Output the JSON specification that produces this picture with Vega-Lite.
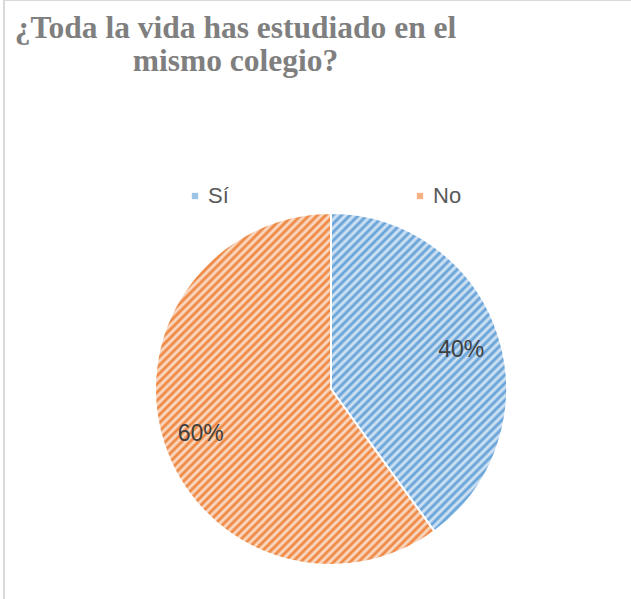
{
  "$schema": "https://vega.github.io/schema/vega-lite/v6.json",
  "autosize": {"type": "none"},
  "padding": {"left": 4, "top": 0, "right": 0, "bottom": 0},
  "width": 654,
  "height": 778,
  "background": "white",
  "view": {"stroke": "#d9d9d9", "strokeWidth": 2},
  "title": {
    "text": ["¿Toda la vida has estudiado en el", "mismo colegio?"],
    "orient": "top",
    "anchor": "start",
    "frame": "group",
    "align": "center",
    "dx": 231.5,
    "dy": 102,
    "offset": 0,
    "baseline": "alphabetic",
    "font": "Liberation Serif",
    "fontSize": 31.5,
    "fontWeight": "bold",
    "color": "#7f7f7f",
    "lineHeight": 33
  },
  "data": {
    "values": [
      {"respuesta": "Sí", "porcentaje": 40, "orden": 1, "etiqueta": "40%"},
      {"respuesta": "No", "porcentaje": 60, "orden": 2, "etiqueta": "60%"}
    ]
  },
  "encoding": {
    "theta": {"field": "porcentaje", "type": "quantitative", "stack": true},
    "order": {"field": "orden", "type": "quantitative"}
  },
  "layer": [
    {
      "mark": {"type": "arc", "radius": 176, "stroke": "white", "strokeWidth": 2},
      "encoding": {
        "color": {
          "field": "respuesta",
          "type": "nominal",
          "scale": {"domain": ["Sí", "No"], "range": ["#9dc3e6", "#f4b183"]},
          "legend": {
            "orient": "none",
            "legendX": 180,
            "legendY": 185,
            "direction": "horizontal",
            "title": null,
            "symbolType": "square",
            "symbolSize": 40,
            "symbolStrokeWidth": 0,
            "labelFont": "Liberation Sans",
            "labelFontSize": 22,
            "labelColor": "#595959",
            "labelOffset": 2,
            "columnPadding": 180,
            "padding": 0
          }
        }
      }
    },
    {
      "mark": {"type": "arc", "radius": 176, "stroke": "white", "strokeWidth": 2},
      "encoding": {
        "detail": {"field": "respuesta", "type": "nominal"},
        "fill": {
          "condition": {
            "test": "datum.respuesta === 'Sí'",
            "value": {"gradient": "linear", "x1": 0, "y1": 0, "x2": 0.565, "y2": 1.022, "stops": [
                {"offset": 0, "color": "#deebf7"}, {"offset": 0.01, "color": "#5b9bd5"}, {"offset": 0.02, "color": "#deebf7"}, {"offset": 0.03, "color": "#5b9bd5"}, {"offset": 0.04, "color": "#deebf7"}, {"offset": 0.05, "color": "#5b9bd5"}, {"offset": 0.06, "color": "#deebf7"}, {"offset": 0.07, "color": "#5b9bd5"}, {"offset": 0.08, "color": "#deebf7"}, {"offset": 0.09, "color": "#5b9bd5"},
                {"offset": 0.10, "color": "#deebf7"}, {"offset": 0.11, "color": "#5b9bd5"}, {"offset": 0.12, "color": "#deebf7"}, {"offset": 0.13, "color": "#5b9bd5"}, {"offset": 0.14, "color": "#deebf7"}, {"offset": 0.15, "color": "#5b9bd5"}, {"offset": 0.16, "color": "#deebf7"}, {"offset": 0.17, "color": "#5b9bd5"}, {"offset": 0.18, "color": "#deebf7"}, {"offset": 0.19, "color": "#5b9bd5"},
                {"offset": 0.20, "color": "#deebf7"}, {"offset": 0.21, "color": "#5b9bd5"}, {"offset": 0.22, "color": "#deebf7"}, {"offset": 0.23, "color": "#5b9bd5"}, {"offset": 0.24, "color": "#deebf7"}, {"offset": 0.25, "color": "#5b9bd5"}, {"offset": 0.26, "color": "#deebf7"}, {"offset": 0.27, "color": "#5b9bd5"}, {"offset": 0.28, "color": "#deebf7"}, {"offset": 0.29, "color": "#5b9bd5"},
                {"offset": 0.30, "color": "#deebf7"}, {"offset": 0.31, "color": "#5b9bd5"}, {"offset": 0.32, "color": "#deebf7"}, {"offset": 0.33, "color": "#5b9bd5"}, {"offset": 0.34, "color": "#deebf7"}, {"offset": 0.35, "color": "#5b9bd5"}, {"offset": 0.36, "color": "#deebf7"}, {"offset": 0.37, "color": "#5b9bd5"}, {"offset": 0.38, "color": "#deebf7"}, {"offset": 0.39, "color": "#5b9bd5"},
                {"offset": 0.40, "color": "#deebf7"}, {"offset": 0.41, "color": "#5b9bd5"}, {"offset": 0.42, "color": "#deebf7"}, {"offset": 0.43, "color": "#5b9bd5"}, {"offset": 0.44, "color": "#deebf7"}, {"offset": 0.45, "color": "#5b9bd5"}, {"offset": 0.46, "color": "#deebf7"}, {"offset": 0.47, "color": "#5b9bd5"}, {"offset": 0.48, "color": "#deebf7"}, {"offset": 0.49, "color": "#5b9bd5"},
                {"offset": 0.50, "color": "#deebf7"}, {"offset": 0.51, "color": "#5b9bd5"}, {"offset": 0.52, "color": "#deebf7"}, {"offset": 0.53, "color": "#5b9bd5"}, {"offset": 0.54, "color": "#deebf7"}, {"offset": 0.55, "color": "#5b9bd5"}, {"offset": 0.56, "color": "#deebf7"}, {"offset": 0.57, "color": "#5b9bd5"}, {"offset": 0.58, "color": "#deebf7"}, {"offset": 0.59, "color": "#5b9bd5"},
                {"offset": 0.60, "color": "#deebf7"}, {"offset": 0.61, "color": "#5b9bd5"}, {"offset": 0.62, "color": "#deebf7"}, {"offset": 0.63, "color": "#5b9bd5"}, {"offset": 0.64, "color": "#deebf7"}, {"offset": 0.65, "color": "#5b9bd5"}, {"offset": 0.66, "color": "#deebf7"}, {"offset": 0.67, "color": "#5b9bd5"}, {"offset": 0.68, "color": "#deebf7"}, {"offset": 0.69, "color": "#5b9bd5"},
                {"offset": 0.70, "color": "#deebf7"}, {"offset": 0.71, "color": "#5b9bd5"}, {"offset": 0.72, "color": "#deebf7"}, {"offset": 0.73, "color": "#5b9bd5"}, {"offset": 0.74, "color": "#deebf7"}, {"offset": 0.75, "color": "#5b9bd5"}, {"offset": 0.76, "color": "#deebf7"}, {"offset": 0.77, "color": "#5b9bd5"}, {"offset": 0.78, "color": "#deebf7"}, {"offset": 0.79, "color": "#5b9bd5"},
                {"offset": 0.80, "color": "#deebf7"}, {"offset": 0.81, "color": "#5b9bd5"}, {"offset": 0.82, "color": "#deebf7"}, {"offset": 0.83, "color": "#5b9bd5"}, {"offset": 0.84, "color": "#deebf7"}, {"offset": 0.85, "color": "#5b9bd5"}, {"offset": 0.86, "color": "#deebf7"}, {"offset": 0.87, "color": "#5b9bd5"}, {"offset": 0.88, "color": "#deebf7"}, {"offset": 0.89, "color": "#5b9bd5"},
                {"offset": 0.90, "color": "#deebf7"}, {"offset": 0.91, "color": "#5b9bd5"}, {"offset": 0.92, "color": "#deebf7"}, {"offset": 0.93, "color": "#5b9bd5"}, {"offset": 0.94, "color": "#deebf7"}, {"offset": 0.95, "color": "#5b9bd5"}, {"offset": 0.96, "color": "#deebf7"}, {"offset": 0.97, "color": "#5b9bd5"}, {"offset": 0.98, "color": "#deebf7"}, {"offset": 0.99, "color": "#5b9bd5"},
                {"offset": 1, "color": "#deebf7"}
              ]}
          },
          "value": {"gradient": "linear", "x1": 0.163, "y1": 0.163, "x2": 0.848, "y2": 1.025, "stops": [
                {"offset": 0, "color": "#fbe5d6"}, {"offset": 0.00833, "color": "#ed7d31"}, {"offset": 0.01667, "color": "#fbe5d6"}, {"offset": 0.025, "color": "#ed7d31"}, {"offset": 0.03333, "color": "#fbe5d6"}, {"offset": 0.04167, "color": "#ed7d31"}, {"offset": 0.05, "color": "#fbe5d6"}, {"offset": 0.05833, "color": "#ed7d31"}, {"offset": 0.06667, "color": "#fbe5d6"}, {"offset": 0.075, "color": "#ed7d31"}, {"offset": 0.08333, "color": "#fbe5d6"}, {"offset": 0.09167, "color": "#ed7d31"},
                {"offset": 0.1, "color": "#fbe5d6"}, {"offset": 0.10833, "color": "#ed7d31"}, {"offset": 0.11667, "color": "#fbe5d6"}, {"offset": 0.125, "color": "#ed7d31"}, {"offset": 0.13333, "color": "#fbe5d6"}, {"offset": 0.14167, "color": "#ed7d31"}, {"offset": 0.15, "color": "#fbe5d6"}, {"offset": 0.15833, "color": "#ed7d31"}, {"offset": 0.16667, "color": "#fbe5d6"}, {"offset": 0.175, "color": "#ed7d31"}, {"offset": 0.18333, "color": "#fbe5d6"}, {"offset": 0.19167, "color": "#ed7d31"},
                {"offset": 0.2, "color": "#fbe5d6"}, {"offset": 0.20833, "color": "#ed7d31"}, {"offset": 0.21667, "color": "#fbe5d6"}, {"offset": 0.225, "color": "#ed7d31"}, {"offset": 0.23333, "color": "#fbe5d6"}, {"offset": 0.24167, "color": "#ed7d31"}, {"offset": 0.25, "color": "#fbe5d6"}, {"offset": 0.25833, "color": "#ed7d31"}, {"offset": 0.26667, "color": "#fbe5d6"}, {"offset": 0.275, "color": "#ed7d31"}, {"offset": 0.28333, "color": "#fbe5d6"}, {"offset": 0.29167, "color": "#ed7d31"},
                {"offset": 0.3, "color": "#fbe5d6"}, {"offset": 0.30833, "color": "#ed7d31"}, {"offset": 0.31667, "color": "#fbe5d6"}, {"offset": 0.325, "color": "#ed7d31"}, {"offset": 0.33333, "color": "#fbe5d6"}, {"offset": 0.34167, "color": "#ed7d31"}, {"offset": 0.35, "color": "#fbe5d6"}, {"offset": 0.35833, "color": "#ed7d31"}, {"offset": 0.36667, "color": "#fbe5d6"}, {"offset": 0.375, "color": "#ed7d31"}, {"offset": 0.38333, "color": "#fbe5d6"}, {"offset": 0.39167, "color": "#ed7d31"},
                {"offset": 0.4, "color": "#fbe5d6"}, {"offset": 0.40833, "color": "#ed7d31"}, {"offset": 0.41667, "color": "#fbe5d6"}, {"offset": 0.425, "color": "#ed7d31"}, {"offset": 0.43333, "color": "#fbe5d6"}, {"offset": 0.44167, "color": "#ed7d31"}, {"offset": 0.45, "color": "#fbe5d6"}, {"offset": 0.45833, "color": "#ed7d31"}, {"offset": 0.46667, "color": "#fbe5d6"}, {"offset": 0.475, "color": "#ed7d31"}, {"offset": 0.48333, "color": "#fbe5d6"}, {"offset": 0.49167, "color": "#ed7d31"},
                {"offset": 0.5, "color": "#fbe5d6"}, {"offset": 0.50833, "color": "#ed7d31"}, {"offset": 0.51667, "color": "#fbe5d6"}, {"offset": 0.525, "color": "#ed7d31"}, {"offset": 0.53333, "color": "#fbe5d6"}, {"offset": 0.54167, "color": "#ed7d31"}, {"offset": 0.55, "color": "#fbe5d6"}, {"offset": 0.55833, "color": "#ed7d31"}, {"offset": 0.56667, "color": "#fbe5d6"}, {"offset": 0.575, "color": "#ed7d31"}, {"offset": 0.58333, "color": "#fbe5d6"}, {"offset": 0.59167, "color": "#ed7d31"},
                {"offset": 0.6, "color": "#fbe5d6"}, {"offset": 0.60833, "color": "#ed7d31"}, {"offset": 0.61667, "color": "#fbe5d6"}, {"offset": 0.625, "color": "#ed7d31"}, {"offset": 0.63333, "color": "#fbe5d6"}, {"offset": 0.64167, "color": "#ed7d31"}, {"offset": 0.65, "color": "#fbe5d6"}, {"offset": 0.65833, "color": "#ed7d31"}, {"offset": 0.66667, "color": "#fbe5d6"}, {"offset": 0.675, "color": "#ed7d31"}, {"offset": 0.68333, "color": "#fbe5d6"}, {"offset": 0.69167, "color": "#ed7d31"},
                {"offset": 0.7, "color": "#fbe5d6"}, {"offset": 0.70833, "color": "#ed7d31"}, {"offset": 0.71667, "color": "#fbe5d6"}, {"offset": 0.725, "color": "#ed7d31"}, {"offset": 0.73333, "color": "#fbe5d6"}, {"offset": 0.74167, "color": "#ed7d31"}, {"offset": 0.75, "color": "#fbe5d6"}, {"offset": 0.75833, "color": "#ed7d31"}, {"offset": 0.76667, "color": "#fbe5d6"}, {"offset": 0.775, "color": "#ed7d31"}, {"offset": 0.78333, "color": "#fbe5d6"}, {"offset": 0.79167, "color": "#ed7d31"},
                {"offset": 0.8, "color": "#fbe5d6"}, {"offset": 0.80833, "color": "#ed7d31"}, {"offset": 0.81667, "color": "#fbe5d6"}, {"offset": 0.825, "color": "#ed7d31"}, {"offset": 0.83333, "color": "#fbe5d6"}, {"offset": 0.84167, "color": "#ed7d31"}, {"offset": 0.85, "color": "#fbe5d6"}, {"offset": 0.85833, "color": "#ed7d31"}, {"offset": 0.86667, "color": "#fbe5d6"}, {"offset": 0.875, "color": "#ed7d31"}, {"offset": 0.88333, "color": "#fbe5d6"}, {"offset": 0.89167, "color": "#ed7d31"},
                {"offset": 0.9, "color": "#fbe5d6"}, {"offset": 0.90833, "color": "#ed7d31"}, {"offset": 0.91667, "color": "#fbe5d6"}, {"offset": 0.925, "color": "#ed7d31"}, {"offset": 0.93333, "color": "#fbe5d6"}, {"offset": 0.94167, "color": "#ed7d31"}, {"offset": 0.95, "color": "#fbe5d6"}, {"offset": 0.95833, "color": "#ed7d31"}, {"offset": 0.96667, "color": "#fbe5d6"}, {"offset": 0.975, "color": "#ed7d31"}, {"offset": 0.98333, "color": "#fbe5d6"}, {"offset": 0.99167, "color": "#ed7d31"},
                {"offset": 1, "color": "#fbe5d6"}
              ]}
        }
      }
    },
    {
      "mark": {"type": "text", "radius": 137, "font": "Liberation Sans", "fontSize": 23, "color": "#404040", "dy": 3},
      "encoding": {
        "detail": {"field": "respuesta", "type": "nominal"},
        "text": {"field": "etiqueta", "type": "nominal"}
      }
    }
  ]
}
